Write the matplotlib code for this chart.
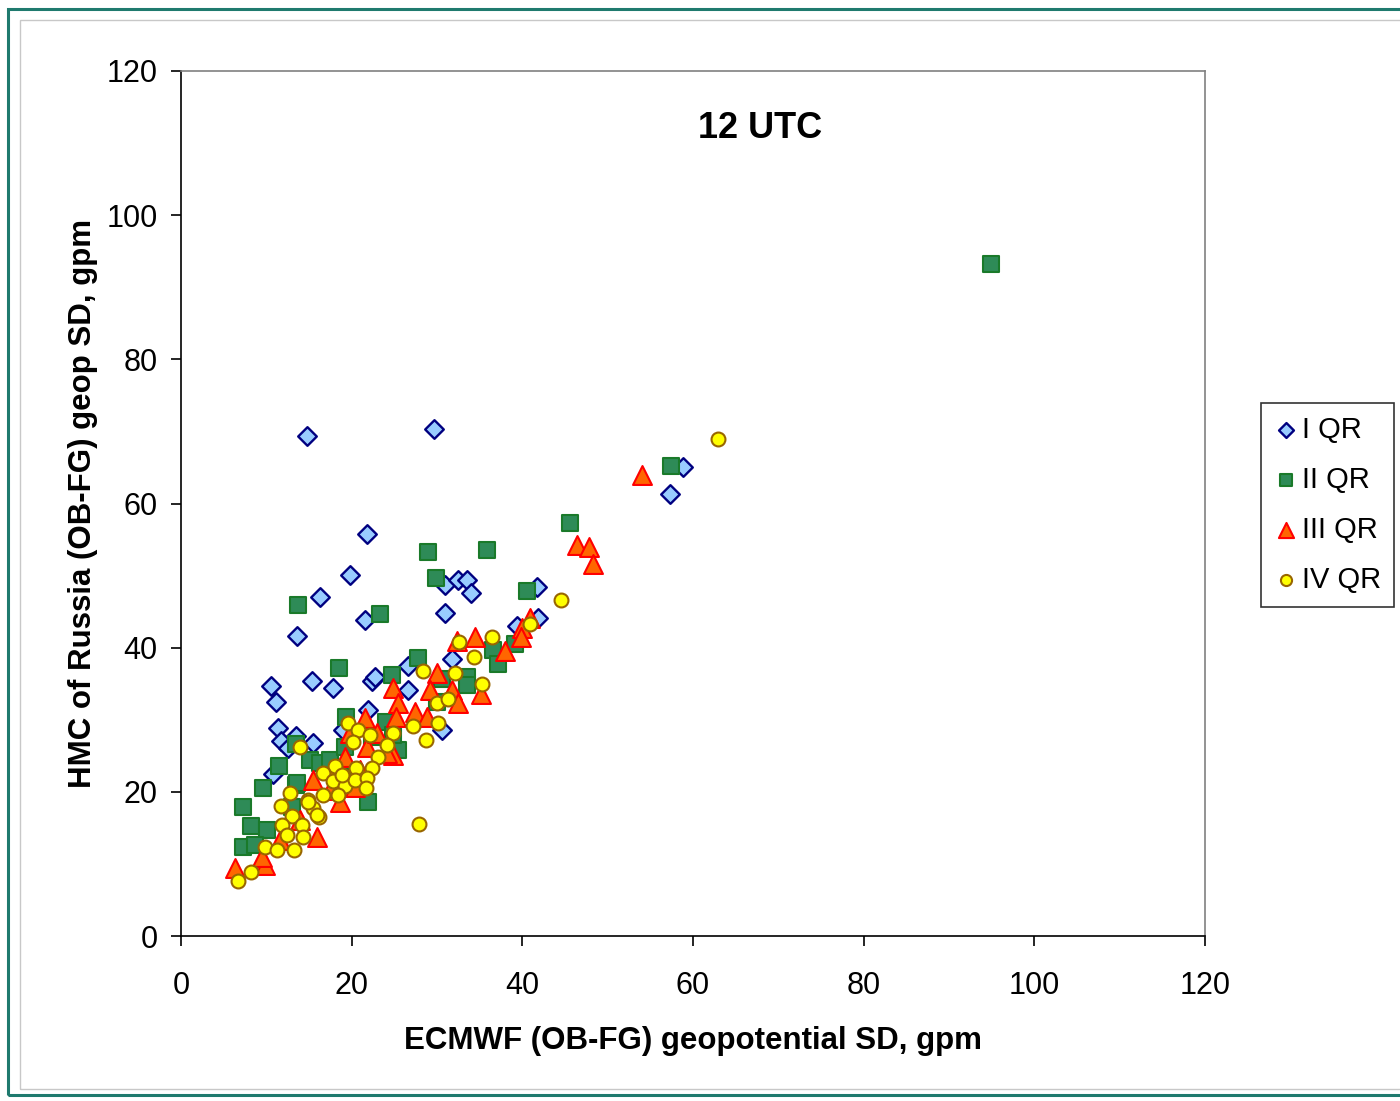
import matplotlib
matplotlib.use("Agg")
import matplotlib.pyplot as plt
from matplotlib.patches import Rectangle

plt.rcParams['font.family'] = ['Liberation Sans', 'DejaVu Sans']

# I QR (blue diamonds)
q1_x = [14.8, 29.6, 21.8, 19.8, 16.3, 13.6, 10.5, 11.1, 15.4, 17.8, 22.4, 22.7, 26.6, 26.6,
        11.4, 11.7, 12.5, 13.5, 15.5, 21.9, 19.0, 10.8, 21.6, 30.9, 30.9, 32.5, 33.5, 34.0,
        31.8, 41.7, 41.8, 39.4, 57.3, 58.8, 30.6]
q1_y = [69.4, 70.3, 55.8, 50.1, 47.0, 41.6, 34.7, 32.5, 35.4, 34.4, 35.4, 35.9, 37.5, 34.1,
        28.9, 27.1, 26.1, 27.7, 26.8, 31.4, 28.6, 22.5, 43.8, 44.8, 48.7, 49.4, 49.4, 47.6,
        38.4, 48.4, 44.1, 43.0, 61.3, 65.1, 28.6]

# II QR (green squares)
q2_x = [94.9, 57.4, 45.6, 28.9, 35.9, 29.9, 13.7, 23.3, 40.5, 18.5, 24.7, 27.8, 30.6, 33.5,
        33.5, 36.6, 37.1, 39.1, 19.3, 24.0, 25.4, 13.5, 15.1, 16.3, 17.5, 11.5, 9.6, 13.5,
        7.3, 8.2, 10.1, 7.3, 8.7, 21.9, 19.2, 24.8, 19.2, 13.6, 22.4, 30.0, 13.0]
q2_y = [93.2, 65.2, 57.3, 53.3, 53.6, 49.7, 45.9, 44.7, 47.9, 37.2, 36.2, 38.6, 35.7, 35.9,
        34.8, 39.7, 37.7, 40.5, 30.4, 29.7, 25.8, 26.6, 24.4, 24.0, 24.4, 23.6, 20.5, 20.9,
        17.9, 15.3, 14.7, 12.3, 12.6, 18.6, 26.2, 27.9, 22.1, 21.2, 27.6, 32.5, 17.9]

# III QR (red triangles)
q3_x = [54.0, 46.4, 47.8, 48.3, 40.9, 40.0, 39.8, 38.0, 34.5, 32.3, 30.0, 29.2, 31.8, 32.5,
        35.2, 24.8, 25.4, 25.2, 27.4, 28.8, 21.6, 24.8, 21.8, 19.2, 24.1, 19.8, 23.0, 15.5,
        18.6, 15.9, 6.3, 9.8, 9.5, 17.8, 20.4, 11.6, 13.9, 17.5, 21.0]
q3_y = [64.0, 54.2, 54.0, 51.6, 44.1, 42.7, 41.5, 39.5, 41.5, 40.9, 36.5, 34.1, 34.1, 32.3,
        33.6, 34.4, 32.3, 30.4, 31.1, 30.4, 30.2, 25.1, 26.2, 24.8, 25.4, 28.2, 28.2, 21.6,
        18.6, 13.7, 9.4, 9.9, 11.0, 23.0, 20.7, 13.3, 16.1, 20.3, 23.0]

# IV QR (yellow circles)
q4_x = [62.9, 44.5, 40.9, 36.4, 32.6, 34.3, 28.4, 32.1, 35.3, 30.0, 31.3, 30.1, 27.2, 28.7,
        24.8, 24.1, 23.1, 22.4, 19.6, 20.7, 22.1, 20.2, 13.9, 18.0, 20.5, 16.6, 17.8, 19.2,
        20.4, 21.8, 21.7, 18.9, 27.9, 12.8, 14.9, 16.6, 15.5, 16.2, 13.0, 14.2, 11.8, 12.4,
        14.3, 6.7, 8.2, 9.8, 11.3, 13.2, 11.7, 14.9, 15.9, 18.4]
q4_y = [69.0, 46.6, 43.3, 41.5, 40.8, 38.7, 36.8, 36.5, 35.0, 32.3, 32.9, 29.6, 29.1, 27.2,
        28.2, 26.5, 24.8, 23.3, 29.6, 28.6, 27.9, 26.9, 26.2, 23.6, 23.3, 22.6, 21.5, 20.8,
        21.6, 21.9, 20.5, 22.3, 15.5, 19.8, 18.9, 19.6, 17.8, 16.5, 16.6, 15.4, 15.4, 14.0,
        13.7, 7.6, 8.9, 12.3, 11.9, 11.9, 18.0, 18.6, 16.8, 19.6]

series_labels = ['I QR', 'II QR', 'III QR', 'IV QR']
ticks = [0, 20, 40, 60, 80, 100, 120]

W, H = 1400, 1101
fig = plt.figure(figsize=(W / 100, H / 100), dpi=100)
fig.patch.set_facecolor('white')

# chart borders
fig.add_artist(Rectangle((8 / W, 1 - 1095 / H), 1.0, (1095 - 9) / H, transform=fig.transFigure,
                         fill=False, edgecolor='#1f7a6e', linewidth=2.2))
fig.add_artist(Rectangle((20 / W, 1 - 1089 / H), 1.0, (1089 - 20) / H, transform=fig.transFigure,
                         fill=False, edgecolor='#c8c8c8', linewidth=1.0))

ax = fig.add_axes([181 / W, 1 - 936 / H, (1205 - 181) / W, (936 - 71) / H])

ax.scatter(q1_x, q1_y, marker='D', s=90, facecolor='#99ccff', edgecolor='#000080',
           linewidth=1.7, label=series_labels[0], zorder=3)
ax.scatter(q2_x, q2_y, marker='s', s=125, facecolor='#2e8b57', edgecolor='#1a7a2a',
           linewidth=1.5, label=series_labels[1], zorder=4)
ax.scatter(q3_x, q3_y, marker='^', s=185, facecolor='#ff6600', edgecolor='#ff0000',
           linewidth=1.5, label=series_labels[2], zorder=5)
ax.scatter(q4_x, q4_y, marker='o', s=100, facecolor='#ffff00', edgecolor='#996600',
           linewidth=1.5, label=series_labels[3], zorder=6)

ax.set_xlim(0, 120)
ax.set_ylim(0, 120)
ax.set_xticks(ticks)
ax.set_yticks(ticks)
ax.tick_params(axis='both', direction='out', length=7, width=1.2, labelsize=22, colors='black')
ax.tick_params(axis='x', pad=18)
ax.tick_params(axis='y', pad=10)
for side in ['left', 'bottom']:
    ax.spines[side].set_color('#000000')
    ax.spines[side].set_linewidth(1.2)
for side in ['top', 'right']:
    ax.spines[side].set_color('#808080')
    ax.spines[side].set_linewidth(1.2)

ax.set_xlabel('ECMWF (OB-FG) geopotential SD, gpm', fontsize=22.5, fontweight='bold', labelpad=18)
ax.set_ylabel('HMC of Russia (OB-FG) geop SD, gpm', fontsize=22.5, fontweight='bold', labelpad=6)

ax.text((760 - 181) / 1024, (936 - 128) / 865, '12 UTC', transform=ax.transAxes,
        ha='center', va='center', fontsize=26, fontweight='bold')

leg = fig.legend(loc='upper left', bbox_to_anchor=(1261 / W, 1 - 403 / H), fontsize=21,
                 frameon=True, fancybox=False, edgecolor='black', markerscale=0.8,
                 handletextpad=0.15, borderpad=0.45, labelspacing=0.75, handlelength=0.8,
                 borderaxespad=0)
leg.get_frame().set_linewidth(1.2)

fig.savefig('out.png', dpi=100)
